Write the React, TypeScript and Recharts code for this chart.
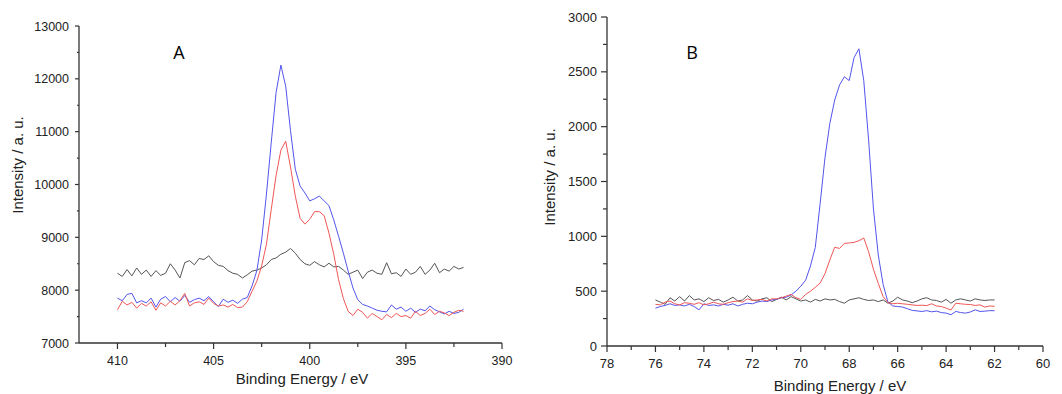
import React from "react";
import { LineChart, Line, XAxis, YAxis } from "recharts";

// Panel A: N 1s region, binding energy (eV) vs intensity
const energyA = [
  410, 409.75, 409.5, 409.25, 409, 408.75, 408.5, 408.25, 408, 407.75,
  407.5, 407.25, 407, 406.75, 406.5, 406.25, 406, 405.75, 405.5, 405.25,
  405, 404.75, 404.5, 404.25, 404, 403.75, 403.5, 403.25, 403, 402.75,
  402.5, 402.25, 402, 401.75, 401.5, 401.25, 401, 400.75, 400.5, 400.25,
  400, 399.75, 399.5, 399.25, 399, 398.75, 398.5, 398.25, 398, 397.75,
  397.5, 397.25, 397, 396.75, 396.5, 396.25, 396, 395.75, 395.5, 395.25,
  395, 394.75, 394.5, 394.25, 394, 393.75, 393.5, 393.25, 393, 392.75,
  392.5, 392.25, 392,
];
const blackA = [
  8320, 8260, 8390, 8270, 8420, 8300, 8380, 8260, 8370, 8280,
  8320, 8500, 8380, 8230, 8520, 8560, 8480, 8600, 8580, 8650,
  8540, 8470, 8450, 8370, 8320, 8300, 8230, 8290, 8360, 8380,
  8420, 8480, 8580, 8610, 8680, 8720, 8790, 8700, 8580, 8500,
  8470, 8540, 8480, 8440, 8510, 8440, 8450, 8380, 8300, 8340,
  8380, 8220, 8340, 8380, 8320, 8300, 8520, 8310, 8330, 8260,
  8400, 8300, 8340, 8450, 8300, 8380, 8510, 8330, 8400, 8360,
  8450, 8400, 8430,
];
const blueA = [
  7850, 7800, 7920, 7940, 7760, 7800, 7760, 7850, 7680, 7830,
  7880, 7780, 7860, 7790, 7900, 7770, 7820, 7850, 7800, 7880,
  7780, 7690, 7830, 7770, 7810, 7750, 7830, 7860, 8080, 8370,
  8950, 9820, 10800, 11740, 12260, 11860, 11020, 10290, 9970, 9840,
  9690, 9730, 9780, 9690, 9600, 9330, 9020, 8700, 8360, 8040,
  7820, 7730, 7700, 7660, 7620, 7600, 7590, 7720, 7640, 7680,
  7600, 7660, 7580, 7640, 7610, 7700, 7630, 7590, 7550, 7600,
  7560, 7580, 7640,
];
const redA = [
  7630, 7790, 7720, 7770, 7660, 7750, 7700, 7780, 7620, 7760,
  7700, 7790, 7720, 7800, 7940, 7700, 7760, 7780, 7730, 7850,
  7750, 7700, 7720, 7680, 7730, 7670, 7680, 7780, 7980, 8170,
  8460, 8870, 9530, 10170, 10650, 10820, 10330, 9780, 9360, 9250,
  9340, 9486, 9486, 9410, 9080, 8680, 8200, 7840, 7600, 7520,
  7640, 7580, 7470, 7560, 7500, 7440, 7540, 7480, 7560, 7500,
  7520, 7470, 7600, 7520, 7560, 7640, 7540, 7600, 7570, 7520,
  7580, 7620, 7600,
];

// Panel B
const energyB = [
  76, 75.8, 75.6, 75.4, 75.2, 75, 74.8, 74.6, 74.4, 74.2,
  74, 73.8, 73.6, 73.4, 73.2, 73, 72.8, 72.6, 72.4, 72.2,
  72, 71.8, 71.6, 71.4, 71.2, 71, 70.8, 70.6, 70.4, 70.2,
  70, 69.8, 69.6, 69.4, 69.2, 69, 68.8, 68.6, 68.4, 68.2,
  68, 67.8, 67.6, 67.4, 67.2, 67, 66.8, 66.6, 66.4, 66.2,
  66, 65.8, 65.6, 65.4, 65.2, 65, 64.8, 64.6, 64.4, 64.2,
  64, 63.8, 63.6, 63.4, 63.2, 63, 62.8, 62.6, 62.4, 62.2,
  62,
];
const blackB = [
  420, 400, 380, 440, 410, 450, 410, 460, 420, 430,
  405, 440, 415, 425, 400, 420, 445, 410, 420, 460,
  420, 410, 430, 440, 405, 425, 445, 420, 450, 430,
  410, 420, 400, 425, 410, 430, 420, 425, 405, 390,
  420, 430, 440, 425, 415, 420, 405, 420, 390, 410,
  445, 420, 410, 395, 410, 430, 440, 420, 415, 400,
  425, 390, 420, 430, 420, 410, 430, 420, 415, 420,
  420,
];
const blueB = [
  345, 360, 370, 385, 370, 375, 365, 380, 360, 330,
  385, 370, 375, 365, 380, 372, 385, 365, 380, 390,
  385, 400, 410, 405, 420, 425, 440, 445, 465, 500,
  545, 600, 730, 900, 1300, 1720, 2030, 2243, 2380, 2455,
  2420, 2630, 2710, 2420, 1880, 1250, 830, 560, 400, 365,
  360, 355, 340, 325, 320, 315, 322, 312, 318, 305,
  300, 285, 315, 305, 300, 310, 330, 315, 318, 322,
  322,
];
const redB = [
  380, 375, 400, 410, 385, 375, 395, 390, 380, 395,
  375, 385, 400, 385, 380, 395, 405, 410, 400, 430,
  415, 420, 425, 410, 430, 430, 440, 455, 470, 440,
  425, 470, 500, 535, 575, 660, 785, 900, 890, 935,
  940, 945, 960, 985, 860, 700, 570, 450, 395, 385,
  390, 385, 380, 375, 370, 372, 368, 385, 365, 360,
  345, 328, 390, 385, 380, 378, 370, 375, 355, 365,
  362,
];

const ticksAX = [390, 392.5, 395, 397.5, 400, 402.5, 405, 407.5, 410];
const ticksAY = [7000, 7500, 8000, 8500, 9000, 9500, 10000, 10500, 11000, 11500, 12000, 12500, 13000];
const ticksBX = [60, 61, 62, 63, 64, 65, 66, 67, 68, 69, 70, 71, 72, 73, 74, 75, 76, 77, 78];
const ticksBY = [0, 250, 500, 750, 1000, 1250, 1500, 1750, 2000, 2250, 2500, 2750, 3000];

const AXIS = "#333";
const TEXT = "#222";
const FONT = "'Liberation Sans', Arial, sans-serif";
const BLUE = "#5454ec";
const RED = "#f05656";
const BLACK = "#555";

function xTick(step: number, fontSize: number, dy: number) {
  return (props: any) => {
    const { x, y, payload } = props;
    const major = Math.abs(payload.value % step) < 1e-6;
    return (
      <g>
        <line x1={x} y1={y} x2={x} y2={y + (major ? 6 : 4)} stroke={AXIS} strokeWidth={1.2} />
        {major && (
          <text x={x} y={y + dy} textAnchor="middle" fontSize={fontSize} fontFamily={FONT} fill={TEXT}>
            {payload.value}
          </text>
        )}
      </g>
    );
  };
}

function yTick(step: number, fontSize: number, majorLen: number, minorLen: number) {
  return (props: any) => {
    const { x, y, payload } = props;
    const major = Math.abs(payload.value % step) < 1e-6;
    return (
      <g>
        <line x1={x} y1={y} x2={x - (major ? majorLen : minorLen)} y2={y} stroke={AXIS} strokeWidth={1.2} />
        {major && (
          <text x={x - 10} y={y + 4.5} textAnchor="end" fontSize={fontSize} fontFamily={FONT} fill={TEXT}>
            {payload.value}
          </text>
        )}
      </g>
    );
  };
}

function xTitle(cx: number, cy: number) {
  return () => (
    <text x={cx} y={cy + 5} textAnchor="middle" fontSize={15} fontFamily={FONT} fill={TEXT}>
      Binding Energy / eV
    </text>
  );
}

function yTitle(cx: number, cy: number) {
  return () => (
    <text
      x={cx}
      y={cy}
      dy={5}
      transform={`rotate(-90, ${cx}, ${cy})`}
      textAnchor="middle"
      fontSize={15}
      fontFamily={FONT}
      fill={TEXT}
    >
      Intensity / a. u.
    </text>
  );
}

const dataA = energyA.map((e, i) => ({ e, black: blackA[i], blue: blueA[i], red: redA[i] }));
const dataB = energyB.map((e, i) => ({ e, black: blackB[i], blue: blueB[i], red: redB[i] }));

function Series() {
  return null;
}

export default function App() {
  return (
    <div style={{ position: "absolute", left: 0, top: 0, width: 1062, height: 394, background: "#fff" }}>
      <div style={{ position: "absolute", left: 0, top: 0 }}>
        <LineChart width={530} height={394} data={dataA} margin={{ top: 26, right: 28, bottom: 21, left: 19 }}>
          <XAxis
            dataKey="e"
            type="number"
            domain={[390, 412]}
            reversed
            ticks={ticksAX}
            interval={0}
            height={30}
            tickLine={false}
            tickSize={0}
            tickMargin={0}
            tick={xTick(5, 12.5, 22)}
            axisLine={{ stroke: AXIS, strokeWidth: 1.3 }}
            label={{ content: xTitle(302, 379) }}
          />
          <YAxis
            type="number"
            domain={[7000, 13000]}
            ticks={ticksAY}
            interval={0}
            width={60}
            tickLine={false}
            tickSize={0}
            tickMargin={0}
            tick={yTick(1000, 12.5, 4, 2)}
            axisLine={{ stroke: AXIS, strokeWidth: 1.3 }}
            label={{ content: yTitle(18, 165) }}
          />
          <Line dataKey="black" stroke={BLACK} strokeWidth={1} dot={false} isAnimationActive={false} />
          <Line dataKey="blue" stroke={BLUE} strokeWidth={1} dot={false} isAnimationActive={false} />
          <Line dataKey="red" stroke={RED} strokeWidth={1} dot={false} isAnimationActive={false} />
        </LineChart>
      </div>
      <div style={{ position: "absolute", left: 530, top: 0 }}>
        <LineChart width={532} height={394} data={dataB} margin={{ top: 17, right: 19, bottom: 18, left: 17 }}>
          <XAxis
            dataKey="e"
            type="number"
            domain={[60, 78]}
            reversed
            ticks={ticksBX}
            interval={0}
            height={30}
            tickLine={false}
            tickSize={0}
            tickMargin={0}
            tick={xTick(2, 13, 21.5)}
            axisLine={{ stroke: AXIS, strokeWidth: 1.3 }}
            label={{ content: xTitle(310, 386) }}
          />
          <YAxis
            type="number"
            domain={[0, 3000]}
            ticks={ticksBY}
            interval={0}
            width={60}
            tickLine={false}
            tickSize={0}
            tickMargin={0}
            tick={yTick(500, 13, 6, 4)}
            axisLine={{ stroke: AXIS, strokeWidth: 1.3 }}
            label={{ content: yTitle(20, 177) }}
          />
          <Line dataKey="black" stroke={BLACK} strokeWidth={1} dot={false} isAnimationActive={false} />
          <Line dataKey="blue" stroke={BLUE} strokeWidth={1} dot={false} isAnimationActive={false} />
          <Line dataKey="red" stroke={RED} strokeWidth={1} dot={false} isAnimationActive={false} />
        </LineChart>
      </div>
      <svg width={1062} height={394} style={{ position: "absolute", left: 0, top: 0, pointerEvents: "none" }}>
        <text x={179} y={59} textAnchor="middle" fontSize={18} fontFamily="'Open Sans', sans-serif" fill="#000">
          A
        </text>
        <text x={692} y={59} textAnchor="middle" fontSize={18} fontFamily="'Open Sans', sans-serif" fill="#000">
          B
        </text>
      </svg>
    </div>
  );
}
